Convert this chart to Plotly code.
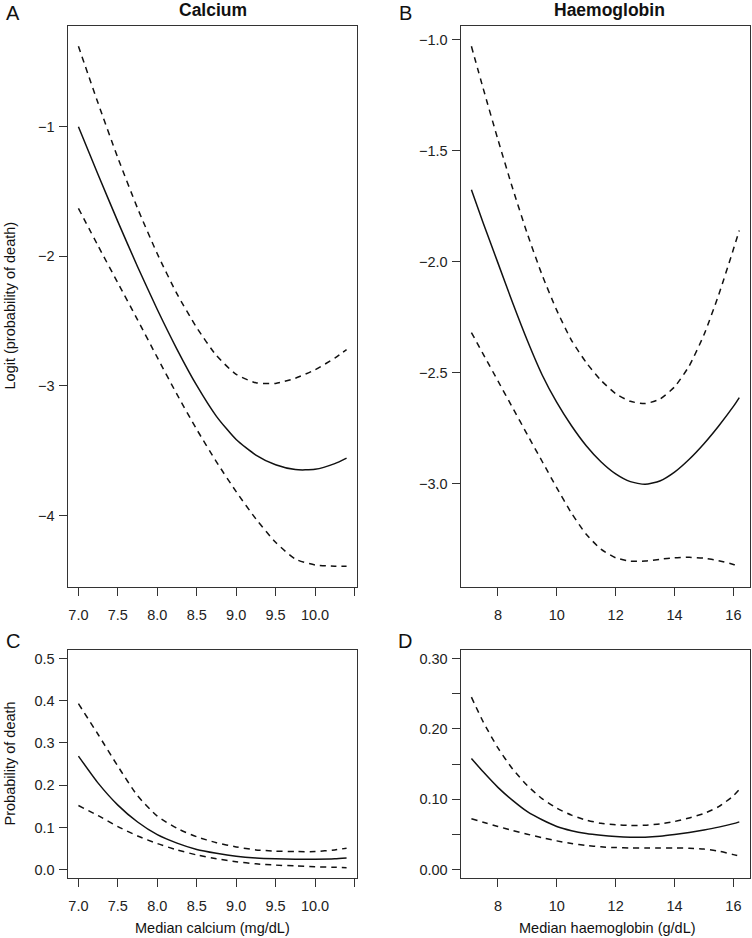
import plotly.graph_objects as go

# ---- data ----
calcium_x = [7.0, 7.25, 7.5, 7.75, 8.0, 8.25, 8.5, 8.75, 9.0, 9.25, 9.5, 9.75, 10.0, 10.25, 10.4]
calcium_logit = [-1.00, -1.371, -1.732, -2.080, -2.410, -2.717, -2.996, -3.234, -3.413, -3.533, -3.608, -3.645, -3.643, -3.599, -3.556]
calcium_logit_upper = [-0.38, -0.82, -1.24, -1.63, -1.98, -2.29, -2.55, -2.765, -2.91, -2.975, -2.98, -2.94, -2.875, -2.785, -2.72]
calcium_logit_lower = [-1.63, -1.92, -2.205, -2.49, -2.78, -3.065, -3.335, -3.585, -3.815, -4.025, -4.205, -4.335, -4.38, -4.39, -4.39]
calcium_prob = [0.269, 0.205, 0.153, 0.113, 0.083, 0.063, 0.048, 0.039, 0.032, 0.028, 0.026, 0.025, 0.025, 0.026, 0.028]
calcium_prob_upper = [0.393, 0.320, 0.245, 0.175, 0.127, 0.098, 0.078, 0.064, 0.054, 0.047, 0.044, 0.043, 0.043, 0.047, 0.051]
calcium_prob_lower = [0.152, 0.128, 0.102, 0.080, 0.062, 0.047, 0.035, 0.026, 0.019, 0.014, 0.011, 0.009, 0.007, 0.006, 0.005]

haem_x = [7.1, 7.5, 8.0, 8.5, 9.0, 9.5, 10.0, 10.5, 11.0, 11.5, 12.0, 12.5, 13.0, 13.5, 14.0, 14.5, 15.0, 15.5, 16.0, 16.2]
haem_logit = [-1.676, -1.826, -2.006, -2.186, -2.356, -2.51, -2.635, -2.74, -2.83, -2.902, -2.957, -2.992, -3.004, -2.989, -2.949, -2.891, -2.821, -2.741, -2.653, -2.613]
haem_logit_upper = [-1.03, -1.22, -1.45, -1.67, -1.875, -2.06, -2.22, -2.355, -2.455, -2.535, -2.595, -2.63, -2.64, -2.62, -2.565, -2.47, -2.33, -2.15, -1.945, -1.86]
haem_logit_lower = [-2.32, -2.417, -2.538, -2.659, -2.78, -2.90, -3.02, -3.134, -3.229, -3.296, -3.335, -3.35, -3.35, -3.342, -3.335, -3.333, -3.337, -3.348, -3.365, -3.373]
haem_prob = [0.158, 0.139, 0.117, 0.0985, 0.0825, 0.071, 0.0615, 0.0555, 0.0515, 0.049, 0.0472, 0.0462, 0.0462, 0.0475, 0.050, 0.053, 0.0565, 0.0605, 0.0655, 0.068]
haem_prob_upper = [0.245, 0.210, 0.173, 0.143, 0.1195, 0.101, 0.0875, 0.0775, 0.0705, 0.066, 0.0638, 0.063, 0.0632, 0.065, 0.0685, 0.0735, 0.080, 0.0895, 0.105, 0.114]
haem_prob_lower = [0.0725, 0.0675, 0.0615, 0.0557, 0.0505, 0.0455, 0.041, 0.0373, 0.0345, 0.0325, 0.0315, 0.031, 0.031, 0.031, 0.031, 0.0305, 0.0293, 0.0265, 0.0215, 0.0195]

calcium_ticks = [7.0, 7.5, 8.0, 8.5, 9.0, 9.5, 10.0, 10.5]
calcium_ticktext = ["7.0", "7.5", "8.0", "8.5", "9.0", "9.5", "10.0", ""]
haem_ticks = [8, 10, 12, 14, 16]
logit_ca_ticks = [-1, -2, -3, -4]
logit_hb_ticks = [-1.0, -1.5, -2.0, -2.5, -3.0]
prob_ca_ticks = [0.0, 0.1, 0.2, 0.3, 0.4, 0.5]
prob_hb_ticks = [0.0, 0.05, 0.10, 0.15, 0.20, 0.25, 0.30]
prob_hb_ticktext = ["0.00", "", "0.10", "", "0.20", "", "0.30"]

W, H = 752, 938
FONT = "Liberation Sans, Arial, sans-serif"
INK = "#111111"
BOX = "#333333"


def r_range(lo, hi):
    # R's default 4% axis expansion
    pad = 0.04 * (hi - lo)
    return [lo - pad, hi + pad]


def fx(p):
    return p / W


def fy(p):
    return 1 - p / H


fig = go.Figure()

panels = [
    ("x", "y", calcium_x, calcium_logit, calcium_logit_upper, calcium_logit_lower),
    ("x2", "y2", haem_x, haem_logit, haem_logit_upper, haem_logit_lower),
    ("x3", "y3", calcium_x, calcium_prob, calcium_prob_upper, calcium_prob_lower),
    ("x4", "y4", haem_x, haem_prob, haem_prob_upper, haem_prob_lower),
]
for xa, ya, xs, mid, up, lo in panels:
    for ys, dash in [(up, "6px,5px"), (lo, "6px,5px"), (mid, "solid")]:
        fig.add_trace(go.Scatter(x=xs, y=ys, mode="lines", xaxis=xa, yaxis=ya,
                                 line=dict(color=INK, width=1.5, dash=dash, shape="spline", smoothing=0.6),
                                 showlegend=False, hoverinfo="skip"))

axis_style = dict(showline=True, linecolor=BOX, linewidth=1.3, mirror=True,
                  ticks="outside", ticklen=8, tickwidth=1.2, tickcolor=BOX,
                  showgrid=False, zeroline=False,
                  tickfont=dict(family=FONT, size=14.5, color="#222222"))

left_dom = [fx(67.7), fx(357.3)]
right_dom = [fx(460.7), fx(750)]
top_dom = [fy(587), fy(25.5)]
bot_dom = [fy(878.2), fy(650)]

ca_xr = r_range(min(calcium_x), max(calcium_x))
hb_xr = r_range(min(haem_x), max(haem_x))

fig.update_layout(
    width=W, height=H, autosize=False,
    margin=dict(l=0, r=0, t=0, b=0),
    paper_bgcolor="white", plot_bgcolor="white",
    xaxis=dict(axis_style, domain=left_dom, anchor="y", range=ca_xr,
               tickvals=calcium_ticks, ticktext=calcium_ticktext, ticklabelstandoff=6),
    yaxis=dict(axis_style, domain=top_dom, anchor="x",
               range=r_range(min(calcium_logit_lower), max(calcium_logit_upper)),
               tickvals=logit_ca_ticks, ticktext=["\u2212%d" % abs(v) for v in logit_ca_ticks],
               ticklabelstandoff=1),
    xaxis2=dict(axis_style, domain=right_dom, anchor="y2", range=hb_xr,
                tickvals=haem_ticks, ticklabelstandoff=6),
    yaxis2=dict(axis_style, domain=top_dom, anchor="x2",
                range=r_range(min(haem_logit_lower), max(haem_logit_upper)),
                tickvals=logit_hb_ticks, ticktext=["\u2212%.1f" % abs(v) for v in logit_hb_ticks],
                ticklabelstandoff=1),
    xaxis3=dict(axis_style, domain=left_dom, anchor="y3", range=ca_xr,
                tickvals=calcium_ticks, ticktext=calcium_ticktext, ticklabelstandoff=6),
    yaxis3=dict(axis_style, domain=bot_dom, anchor="x3", range=r_range(0, 0.5),
                tickvals=prob_ca_ticks, ticktext=["%.1f" % v for v in prob_ca_ticks],
                ticklabelstandoff=1),
    xaxis4=dict(axis_style, domain=right_dom, anchor="y4", range=hb_xr,
                tickvals=haem_ticks, ticklabelstandoff=6),
    yaxis4=dict(axis_style, domain=bot_dom, anchor="x4", range=r_range(0, 0.3),
                tickvals=prob_hb_ticks, ticktext=prob_hb_ticktext, ticklabelstandoff=1),
)


def label(text, x, y, size=14.5, bold=False, angle=0):
    fig.add_annotation(text="<b>%s</b>" % text if bold else text,
                       x=fx(x), y=fy(y), xref="paper", yref="paper",
                       xanchor="center", yanchor="middle", showarrow=False, textangle=angle,
                       font=dict(family=FONT, size=size, color="#111111"))


# panel letters and titles
label("A", 12.5, 13, size=20)
label("B", 405, 13, size=20)
label("C", 12.5, 641, size=20)
label("D", 404.5, 641, size=20)
label("Calcium", 212.5, 9.5, size=17.5, bold=True)
label("Haemoglobin", 609, 9.5, size=17.5, bold=True)

# axis titles
label("Logit (probability of death)", 9.5, 306, angle=-90)
label("Probability of death", 9.5, 764, angle=-90)
label("Median calcium (mg/dL)", 212.5, 928)
label("Median haemoglobin (g/dL)", 607, 928)

# the page body has an 8px margin by default; drop it so the figure fills the window
fig.write_html("out.html", config={"displayModeBar": False},
               post_script="document.body.style.margin='0px';document.body.style.overflow='hidden';")
